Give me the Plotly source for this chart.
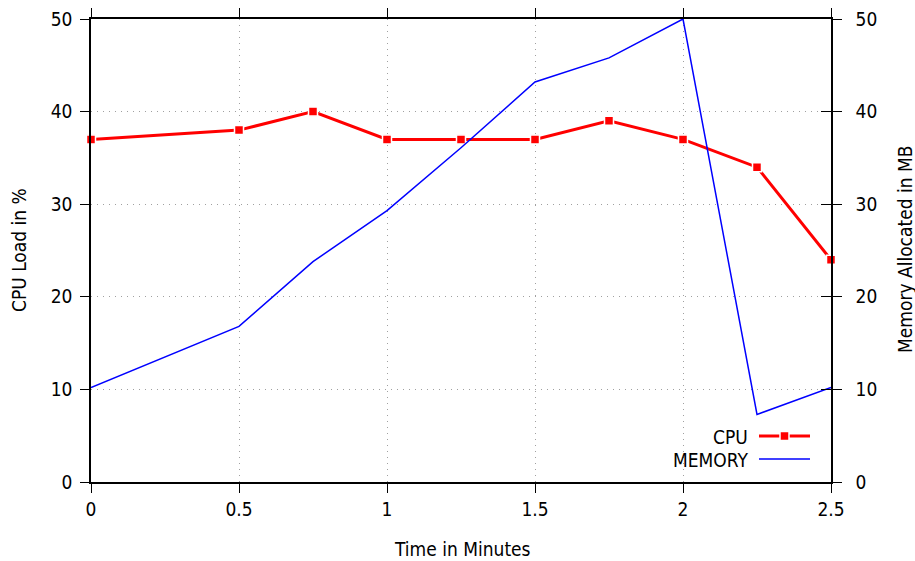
import plotly.graph_objects as go

time_min = [0, 0.5, 0.75, 1, 1.25, 1.5, 1.75, 2, 2.25, 2.5]
cpu_load = [37, 38, 40, 37, 37, 37, 39, 37, 34, 24]
memory_mb = [10.2, 16.8, 23.8, 29.3, 36.1, 43.2, 45.8, 50, 7.3, 10.2]
x_ticks = [0, 0.5, 1, 1.5, 2, 2.5]
x_tick_labels = ["0", "0.5", "1", "1.5", "2", "2.5"]
y_ticks = [0, 10, 20, 30, 40, 50]

FONT = "DejaVu Sans Condensed"
FS = 19
RED = "#ff0000"
BLUE = "#0000ff"

L, R, T, B = 91, 831, 19, 482  # plot area in screen pixels
W, H = 915, 561
PW, PH = R - L, B - T


def px(x):
    return (x - L) / PW


def py(y):
    return (B - y) / PH


fig = go.Figure()
fig.add_trace(go.Scatter(
    x=time_min, y=cpu_load, name="CPU", mode="lines+markers",
    line=dict(color=RED, width=3),
    marker=dict(symbol="square", size=9, color=RED, line=dict(color="white", width=1.5)),
    yaxis="y", cliponaxis=False, showlegend=False))
fig.add_trace(go.Scatter(
    x=time_min, y=memory_mb, name="MEMORY", mode="lines",
    line=dict(color=BLUE, width=1.5),
    yaxis="y2", cliponaxis=False, showlegend=False))

axis_common = dict(
    showline=True, linecolor="black", linewidth=1.5,
    ticks="outside", ticklen=9, tickwidth=1.2, tickcolor="black",
    tickfont=dict(family=FONT, size=FS, color="black"),
    zeroline=False, automargin=False,
)

fig.update_layout(
    width=W, height=H,
    margin=dict(l=L, r=W - R, t=T, b=H - B),
    paper_bgcolor="white", plot_bgcolor="white",
    font=dict(family=FONT, size=FS, color="black"),
    xaxis=dict(
        range=[0, 2.5], tickvals=x_ticks, ticktext=x_tick_labels,
        showgrid=True, gridcolor="#a0a0a0", griddash="1px,5px", gridwidth=1,
        mirror="ticks",
        **axis_common),
    yaxis=dict(
        range=[0, 50], tickvals=y_ticks,
        showgrid=True, gridcolor="#a0a0a0", griddash="1px,5px", gridwidth=1,
        mirror=True, ticklabelstandoff=4,
        **axis_common),
    yaxis2=dict(
        range=[0, 50], tickvals=y_ticks, overlaying="y", side="right",
        showgrid=False, ticklabelstandoff=10,
        **axis_common),
    yaxis3=dict(
        range=[0, 50], tickvals=y_ticks, overlaying="y", side="right",
        showgrid=False, showline=False, ticks="inside", ticklen=10, tickwidth=1.2,
        tickcolor="black", showticklabels=False, zeroline=False, automargin=False),
)
# invisible trace to activate inner ticks on the right
fig.add_trace(go.Scatter(x=[time_min[0]], y=[memory_mb[0]], yaxis="y3", mode="none",
                         showlegend=False, hoverinfo="skip"))

# axis titles
fig.add_annotation(xref="paper", yref="paper", x=px(19), y=py(250), text="CPU Load in %",
                   textangle=-90, showarrow=False, xanchor="center", yanchor="middle",
                   font=dict(family=FONT, size=FS))
fig.add_annotation(xref="paper", yref="paper", x=px(905), y=py(250), text="Memory Allocated in MB",
                   textangle=-90, showarrow=False, xanchor="center", yanchor="middle",
                   font=dict(family=FONT, size=FS))
fig.add_annotation(xref="paper", yref="paper", x=px(462), y=py(549), text="Time in Minutes",
                   showarrow=False, xanchor="center", yanchor="middle",
                   font=dict(family=FONT, size=FS))

# legend drawn gnuplot style: text right-aligned, sample to the right
legend_items = [("CPU", RED, 3, True, 437), ("MEMORY", BLUE, 1.5, False, 460)]
for label, color, width, marker, ypix in legend_items:
    fig.add_annotation(xref="paper", yref="paper", x=px(750), y=py(ypix),
                       text=label, showarrow=False, xanchor="right", yanchor="middle",
                       font=dict(family=FONT, size=FS, color="black"))
    fig.add_shape(type="line", xref="paper", yref="paper",
                  x0=px(759), x1=px(810), y0=py(ypix - 1), y1=py(ypix - 1),
                  line=dict(color=color, width=width))
    if marker:
        fig.add_shape(type="rect", xref="paper", yref="paper",
                      x0=px(780), x1=px(789), y0=py(ypix + 3.5), y1=py(ypix - 5.5),
                      fillcolor=color, line=dict(color="white", width=1.5))

fig.write_html(
    "out.html",
    config={"displayModeBar": False},
    post_script="document.body.style.margin='0';document.body.style.overflow='hidden';",
)
